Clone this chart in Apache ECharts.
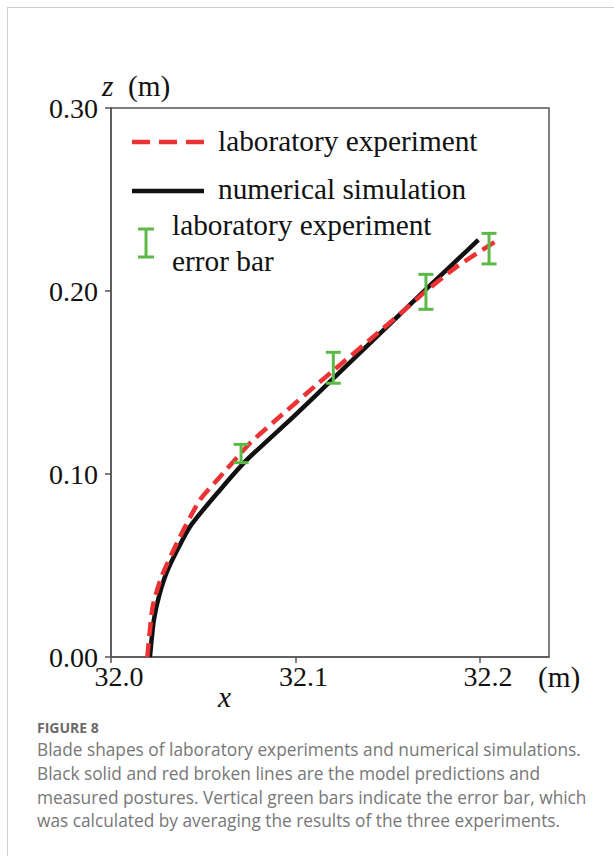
<!DOCTYPE html>
<html>
<head>
<meta charset="utf-8">
<script src="https://cdn.jsdelivr.net/npm/echarts@6/dist/echarts.min.js"></script>
<style>
  html, body { margin: 0; padding: 0; background: #fff; }
  #frame { position: absolute; left: 7px; top: 7px; width: 620px; height: 860px;
           border-left: 1.5px solid #cfcfcf; border-top: 1.5px solid #cfcfcf; }
  #chart { position: absolute; left: 0; top: 0; width: 614px; height: 856px; }
  #cap { position: absolute; left: 37px; top: 718px; width: 577px;
         font-family: "Open Sans", Lato, sans-serif; color: #777; }
  #cap .fig { font-size: 14px; font-weight: 700; color: #6a6a6a; line-height: 20px; }
  #cap .txt { font-size: 17.3px; line-height: 23.8px; }
</style>
</head>
<body>
<div id="frame"></div>
<div id="chart"></div>
<div id="cap">
  <div class="fig">FIGURE 8</div>
  <div class="txt">Blade shapes of laboratory experiments and numerical simulations.<br>Black solid and red broken lines are the model predictions and<br>measured postures. Vertical green bars indicate the error bar, which<br>was calculated by averaging the results of the three experiments.</div>
</div>
<script>
// numerical simulation (black solid)
const simX = [32.0211, 32.0232, 32.0262, 32.0311, 32.0428, 32.0591, 32.0736, 32.0988, 32.1187, 32.1494, 32.1711, 32.1855, 32.1991];
const simZ = [0, 0.0200, 0.0340, 0.0485, 0.0712, 0.0913, 0.1077, 0.1312, 0.1505, 0.1803, 0.2013, 0.2150, 0.2279];
// laboratory experiment (red dashed)
const expX = [32.0197, 32.0226, 32.0274, 32.0374, 32.0482, 32.0591, 32.0753, 32.0880, 32.1115, 32.1205, 32.1422, 32.1584, 32.1693, 32.1874, 32.2081];
const expZ = [0, 0.0275, 0.0439, 0.0657, 0.0858, 0.0985, 0.1168, 0.1283, 0.1488, 0.1565, 0.1750, 0.1890, 0.1987, 0.2133, 0.2269];
// error bars
const errX = [32.0705, 32.1205, 32.1707, 32.2049];
const errLow = [0.1062, 0.1496, 0.1900, 0.2148];
const errHigh = [0.1162, 0.1665, 0.2091, 0.2315];
// axis ticks
const xTicks = [32.0, 32.1, 32.2];
const yTicks = [0.00, 0.10, 0.20, 0.30];

const serif = '"Liberation Serif", "Times New Roman", serif';
const RED = '#ec3232', GREEN = '#5cb947', BLACK = '#111111';
const FS = 28, LFS = 29.3;

const chart = echarts.init(document.getElementById('chart'), null, { renderer: 'svg' });
const simData = simX.map((x, i) => [x, simZ[i]]);
const expData = expX.map((x, i) => [x, expZ[i]]);
const errData = errX.map((x, i) => [x, errLow[i], errHigh[i]]);

chart.setOption({
  animation: false,
  grid: { left: 111, top: 108, right: 65, bottom: 199, show: true, borderColor: '#555', borderWidth: 1.5, backgroundColor: 'transparent' },
  xAxis: {
    type: 'value', min: 32.0, max: 32.2374, interval: 0.1,
    splitLine: { show: false },
    axisLine: { show: true, onZero: false, lineStyle: { color: '#555', width: 1.5 } },
    axisTick: { show: true, inside: false, length: 6, lineStyle: { color: '#555', width: 1.5 } },
    axisLabel: {
      margin: 5, fontFamily: serif, fontSize: FS, color: '#111', padding: [0, 0, 0, 16],
      showMaxLabel: false,
      formatter: v => xTicks.some(t => Math.abs(t - v) < 1e-6) ? v.toFixed(1) : ''
    }
  },
  yAxis: {
    type: 'value', min: 0, max: 0.3, interval: 0.1,
    splitLine: { show: false },
    axisLine: { show: true, lineStyle: { color: '#555', width: 1.5 } },
    axisTick: { show: true, inside: false, length: 6, lineStyle: { color: '#555', width: 1.5 } },
    axisLabel: {
      margin: 13, fontFamily: serif, fontSize: FS, color: '#111',
      formatter: v => yTicks.some(t => Math.abs(t - v) < 1e-6) ? v.toFixed(2) : ''
    }
  },
  series: [
    { name: 'numerical simulation', type: 'line', data: simData, showSymbol: false, smooth: 0.2,
      lineStyle: { color: BLACK, width: 4.5 }, z: 2 },
    { name: 'laboratory experiment', type: 'line', data: expData, showSymbol: false, smooth: 0.2,
      lineStyle: { color: RED, width: 4.5, type: [14, 7] }, z: 3 },
    { name: 'laboratory experiment error bar', type: 'custom', data: errData, z: 4,
      renderItem: (params, api) => {
        const top = api.coord([api.value(0), api.value(2)]);
        const bot = api.coord([api.value(0), api.value(1)]);
        const hw = 7.5;
        const st = { stroke: GREEN, lineWidth: 3, fill: 'none' };
        return { type: 'group', children: [
          { type: 'line', shape: { x1: top[0], y1: top[1], x2: bot[0], y2: bot[1] }, style: st },
          { type: 'line', shape: { x1: top[0] - hw, y1: top[1], x2: top[0] + hw, y2: top[1] }, style: st },
          { type: 'line', shape: { x1: bot[0] - hw, y1: bot[1], x2: bot[0] + hw, y2: bot[1] }, style: st }
        ]};
      }
    }
  ],
  graphic: [
    // axis names
    { type: 'text', left: 102, top: 71, style: { text: '{i|z}  (m)', fontFamily: serif, fontSize: LFS, fill: '#111',
        rich: { i: { fontStyle: 'italic', fontFamily: serif, fontSize: LFS, fill: '#111' } } } },
    { type: 'text', left: 218, top: 682, style: { text: 'x', fontFamily: serif, fontStyle: 'italic', fontSize: LFS, fill: '#111' } },
    { type: 'text', left: 538, top: 662, style: { text: '(m)', fontFamily: serif, fontSize: LFS, fill: '#111' } },
    // legend
    { type: 'line', shape: { x1: 132, y1: 142, x2: 204, y2: 142 }, style: { stroke: RED, lineWidth: 4.5, lineDash: [18, 9] } },
    { type: 'text', left: 218, top: 126, style: { text: 'laboratory experiment', fontFamily: serif, fontSize: LFS, fill: '#111' } },
    { type: 'line', shape: { x1: 132, y1: 191, x2: 204, y2: 191 }, style: { stroke: BLACK, lineWidth: 4.5 } },
    { type: 'text', left: 218, top: 174, style: { text: 'numerical simulation', fontFamily: serif, fontSize: LFS, fill: '#111' } },
    { type: 'line', shape: { x1: 146, y1: 229, x2: 146, y2: 257 }, style: { stroke: GREEN, lineWidth: 3 } },
    { type: 'line', shape: { x1: 138, y1: 229, x2: 154, y2: 229 }, style: { stroke: GREEN, lineWidth: 3 } },
    { type: 'line', shape: { x1: 138, y1: 257, x2: 154, y2: 257 }, style: { stroke: GREEN, lineWidth: 3 } },
    { type: 'text', left: 172, top: 210, style: { text: 'laboratory experiment', fontFamily: serif, fontSize: LFS, fill: '#111' } },
    { type: 'text', left: 172, top: 246, style: { text: 'error bar', fontFamily: serif, fontSize: LFS, fill: '#111' } }
  ]
});
</script>
</body>
</html>
